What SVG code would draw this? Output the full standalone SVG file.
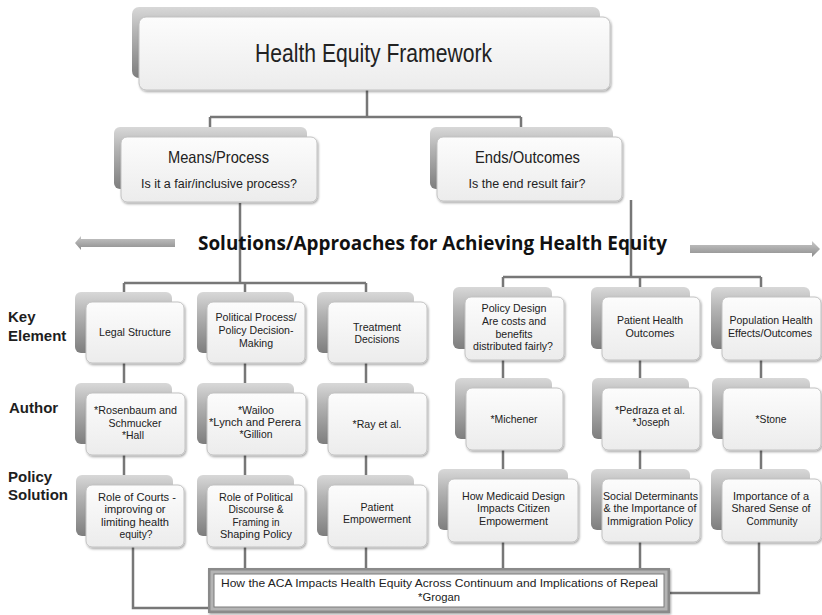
<svg xmlns="http://www.w3.org/2000/svg" width="822" height="615" viewBox="0 0 822 615">
<defs>
<linearGradient id="gb" x1="0" y1="0" x2="0" y2="1">
<stop offset="0" stop-color="#d8d8d8"/>
<stop offset="0.35" stop-color="#b4b4b4"/>
<stop offset="1" stop-color="#7e7e7e"/>
</linearGradient>
<linearGradient id="gf" x1="0" y1="0" x2="0" y2="1">
<stop offset="0" stop-color="#fcfcfc"/>
<stop offset="1" stop-color="#ececec"/>
</linearGradient>
<linearGradient id="ga" x1="0" y1="0" x2="0" y2="1">
<stop offset="0" stop-color="#c8c8c8"/>
<stop offset="1" stop-color="#8c8c8c"/>
</linearGradient>
<filter id="sh" x="-10%" y="-10%" width="125%" height="130%">
<feDropShadow dx="1" dy="1.5" stdDeviation="1.2" flood-color="#000" flood-opacity="0.35"/>
</filter>
</defs>
<style>
.back{fill:url(#gb);}
.front{fill:url(#gf);stroke:#c2c2c2;stroke-width:1;filter:url(#sh);}
.conn{stroke:#777;stroke-width:2.5;fill:none;}
.t{font-family:"Liberation Sans",Arial,sans-serif;font-size:11.5px;fill:#222;text-anchor:middle;}
.lbl{font-family:"Liberation Sans",Arial,sans-serif;font-size:15px;font-weight:bold;fill:#1e1e1e;}
.arrow{fill:url(#ga);}
</style>
<rect width="822" height="615" fill="#ffffff"/>

<g id="connectors">
<path class="conn" d="M367,90V117M210,117H521M210,117V127M521,117V127"/>
<path class="conn" d="M240,203V283M124,283H366M124,283V292M245,283V292M366,283V292"/>
<path class="conn" d="M631,200V277M503,277H761M503,277V287M640,277V287M761,277V287"/>
<path class="conn" d="M124,363V383M245,363V383M366,363V383"/>
<path class="conn" d="M503,360V378M640,360V378M761,360V378"/>
<path class="conn" d="M124,455V475M245,455V475M366,455V475"/>
<path class="conn" d="M503,450V469M640,450V469M761,450V469"/>
<path class="conn" d="M133,547V608H208M245,547V568M366,547V568M503,542V568M640,542V568M759,542V593H670"/>
</g>

<g id="arrows">
<polygon class="arrow" points="75,243 81,236 81,239 175,239 175,247 81,247 81,250"/>
<polygon class="arrow" points="820,249 812,241 812,245 690,245 690,253 812,253 812,257"/>
</g>

<text id="solutions" x="198" y="250" textLength="469" lengthAdjust="spacingAndGlyphs" style="font-family:'Open Sans','Liberation Sans',sans-serif;font-weight:bold;font-size:20px;fill:#111;">Solutions/Approaches for Achieving Health Equity</text>

<g id="row-labels">
<text class="lbl" x="8" y="322">Key</text>
<text class="lbl" x="8" y="341">Element</text>
<text class="lbl" x="9" y="413">Author</text>
<text class="lbl" x="8" y="482">Policy</text>
<text class="lbl" x="8" y="500">Solution</text>
</g>

<g id="n-title">
<rect class="back" x="132" y="7" width="468" height="71" rx="7"/>
<rect class="front" x="139" y="17" width="471" height="73" rx="7"/>
<text class="t" x="373.5" y="62" textLength="237" lengthAdjust="spacingAndGlyphs" style="font-size:25px">Health Equity Framework</text>
</g>

<g id="n-means">
<rect class="back" x="114" y="127" width="193" height="62" rx="6"/>
<rect class="front" x="121" y="137" width="196" height="65" rx="6"/>
<text class="t" x="218.5" y="163" textLength="101" lengthAdjust="spacingAndGlyphs" style="font-size:16.5px">Means/Process</text>
<text class="t" x="219" y="188" textLength="156" lengthAdjust="spacingAndGlyphs" style="font-size:12.5px">Is it a fair/inclusive process?</text>
</g>

<g id="n-ends">
<rect class="back" x="430" y="127" width="183" height="62" rx="6"/>
<rect class="front" x="437" y="137" width="185" height="64" rx="6"/>
<text class="t" x="527.5" y="163" textLength="105" lengthAdjust="spacingAndGlyphs" style="font-size:16.5px">Ends/Outcomes</text>
<text class="t" x="527" y="188" textLength="117" lengthAdjust="spacingAndGlyphs" style="font-size:12.5px">Is the end result fair?</text>
</g>

<g id="n-legal">
<rect class="back" x="75" y="292" width="97" height="61" rx="6"/>
<rect class="front" x="86" y="302" width="98" height="61" rx="6"/>
<text class="t" x="135" y="336" textLength="72" lengthAdjust="spacingAndGlyphs">Legal Structure</text>
</g>

<g id="n-political">
<rect class="back" x="197" y="292" width="97" height="61" rx="6"/>
<rect class="front" x="207" y="302" width="98" height="61" rx="6"/>
<text class="t" x="256" y="321" textLength="81" lengthAdjust="spacingAndGlyphs">Political Process/</text>
<text class="t" x="256" y="334" textLength="75" lengthAdjust="spacingAndGlyphs">Policy Decision-</text>
<text class="t" x="256" y="347" textLength="34" lengthAdjust="spacingAndGlyphs">Making</text>
</g>

<g id="n-treatment">
<rect class="back" x="317" y="292" width="97" height="61" rx="6"/>
<rect class="front" x="328" y="302" width="99" height="61" rx="6"/>
<text class="t" x="377" y="331" textLength="48" lengthAdjust="spacingAndGlyphs">Treatment</text>
<text class="t" x="377" y="343" textLength="45" lengthAdjust="spacingAndGlyphs">Decisions</text>
</g>

<g id="n-policydesign">
<rect class="back" x="453" y="287" width="99" height="62" rx="6"/>
<rect class="front" x="465" y="297" width="99" height="63" rx="6"/>
<text class="t" x="514" y="312" textLength="65" lengthAdjust="spacingAndGlyphs">Policy Design</text>
<text class="t" x="514" y="325" textLength="64" lengthAdjust="spacingAndGlyphs">Are costs and</text>
<text class="t" x="514" y="338" textLength="37" lengthAdjust="spacingAndGlyphs">benefits</text>
<text class="t" x="513" y="350" textLength="80" lengthAdjust="spacingAndGlyphs">distributed fairly?</text>
</g>

<g id="n-patienthealth">
<rect class="back" x="591" y="287" width="99" height="62" rx="6"/>
<rect class="front" x="602" y="297" width="98" height="63" rx="6"/>
<text class="t" x="650" y="324" textLength="66" lengthAdjust="spacingAndGlyphs">Patient Health</text>
<text class="t" x="650" y="337" textLength="49" lengthAdjust="spacingAndGlyphs">Outcomes</text>
</g>

<g id="n-population">
<rect class="back" x="711" y="287" width="99" height="62" rx="6"/>
<rect class="front" x="722" y="297" width="99" height="63" rx="6"/>
<text class="t" x="771" y="324" textLength="83" lengthAdjust="spacingAndGlyphs">Population Health</text>
<text class="t" x="770" y="337" textLength="84" lengthAdjust="spacingAndGlyphs">Effects/Outcomes</text>
</g>

<g id="n-rosenbaum">
<rect class="back" x="75" y="383" width="97" height="61" rx="6"/>
<rect class="front" x="86" y="393" width="99" height="62" rx="6"/>
<text class="t" x="135.5" y="414" textLength="83" lengthAdjust="spacingAndGlyphs">*Rosenbaum and</text>
<text class="t" x="135" y="427" textLength="53" lengthAdjust="spacingAndGlyphs">Schmucker</text>
<text class="t" x="133" y="439" textLength="22" lengthAdjust="spacingAndGlyphs">*Hall</text>
</g>

<g id="n-wailoo">
<rect class="back" x="197" y="383" width="97" height="61" rx="6"/>
<rect class="front" x="207" y="393" width="99" height="62" rx="6"/>
<text class="t" x="256" y="414" textLength="36" lengthAdjust="spacingAndGlyphs">*Wailoo</text>
<text class="t" x="255" y="426" textLength="92" lengthAdjust="spacingAndGlyphs">*Lynch and Perera</text>
<text class="t" x="256" y="438" textLength="33" lengthAdjust="spacingAndGlyphs">*Gillion</text>
</g>

<g id="n-ray">
<rect class="back" x="317" y="383" width="97" height="61" rx="6"/>
<rect class="front" x="328" y="393" width="99" height="62" rx="6"/>
<text class="t" x="377" y="428" textLength="49" lengthAdjust="spacingAndGlyphs">*Ray et al.</text>
</g>

<g id="n-michener">
<rect class="back" x="455" y="378" width="97" height="61" rx="6"/>
<rect class="front" x="466" y="388" width="97" height="62" rx="6"/>
<text class="t" x="514" y="423" textLength="47" lengthAdjust="spacingAndGlyphs">*Michener</text>
</g>

<g id="n-pedraza">
<rect class="back" x="592" y="378" width="97" height="61" rx="6"/>
<rect class="front" x="602" y="388" width="98" height="62" rx="6"/>
<text class="t" x="650" y="414" textLength="70" lengthAdjust="spacingAndGlyphs">*Pedraza et al.</text>
<text class="t" x="651" y="426" textLength="37" lengthAdjust="spacingAndGlyphs">*Joseph</text>
</g>

<g id="n-stone">
<rect class="back" x="712" y="378" width="98" height="61" rx="6"/>
<rect class="front" x="723" y="388" width="98" height="62" rx="6"/>
<text class="t" x="771" y="423" textLength="31" lengthAdjust="spacingAndGlyphs">*Stone</text>
</g>

<g id="n-courts">
<rect class="back" x="76" y="475" width="97" height="61" rx="6"/>
<rect class="front" x="86" y="485" width="98" height="62" rx="6"/>
<text class="t" x="137" y="500.5" textLength="78" lengthAdjust="spacingAndGlyphs">Role of Courts -</text>
<text class="t" x="135" y="513" textLength="61" lengthAdjust="spacingAndGlyphs">improving or</text>
<text class="t" x="135" y="525.5" textLength="68" lengthAdjust="spacingAndGlyphs">limiting health</text>
<text class="t" x="136" y="538" textLength="33" lengthAdjust="spacingAndGlyphs">equity?</text>
</g>

<g id="n-discourse">
<rect class="back" x="197" y="475" width="97" height="61" rx="6"/>
<rect class="front" x="207" y="485" width="98" height="62" rx="6"/>
<text class="t" x="256" y="500.5" textLength="74" lengthAdjust="spacingAndGlyphs">Role of Political</text>
<text class="t" x="256" y="513" textLength="55" lengthAdjust="spacingAndGlyphs">Discourse &amp;</text>
<text class="t" x="256" y="525.5" textLength="47" lengthAdjust="spacingAndGlyphs">Framing in</text>
<text class="t" x="256" y="538" textLength="72" lengthAdjust="spacingAndGlyphs">Shaping Policy</text>
</g>

<g id="n-empower">
<rect class="back" x="317" y="475" width="97" height="61" rx="6"/>
<rect class="front" x="328" y="485" width="99" height="62" rx="6"/>
<text class="t" x="377" y="510.5" textLength="33" lengthAdjust="spacingAndGlyphs">Patient</text>
<text class="t" x="377" y="523" textLength="68" lengthAdjust="spacingAndGlyphs">Empowerment</text>
</g>

<g id="n-medicaid">
<rect class="back" x="438" y="469" width="130" height="61" rx="6"/>
<rect class="front" x="448" y="479" width="130" height="63" rx="6"/>
<text class="t" x="513.5" y="499.5" textLength="103" lengthAdjust="spacingAndGlyphs">How Medicaid Design</text>
<text class="t" x="513.5" y="512" textLength="73" lengthAdjust="spacingAndGlyphs">Impacts Citizen</text>
<text class="t" x="513.5" y="524.5" textLength="69" lengthAdjust="spacingAndGlyphs">Empowerment</text>
</g>

<g id="n-social">
<rect class="back" x="591" y="469" width="99" height="61" rx="6"/>
<rect class="front" x="602" y="479" width="98" height="63" rx="6"/>
<text class="t" x="650.5" y="499.5" textLength="95" lengthAdjust="spacingAndGlyphs">Social Determinants</text>
<text class="t" x="650" y="512" textLength="93" lengthAdjust="spacingAndGlyphs">&amp; the Importance of</text>
<text class="t" x="650" y="524.5" textLength="86" lengthAdjust="spacingAndGlyphs">Immigration Policy</text>
</g>

<g id="n-community">
<rect class="back" x="711" y="469" width="99" height="61" rx="6"/>
<rect class="front" x="722" y="479" width="99" height="63" rx="6"/>
<text class="t" x="771" y="499.5" textLength="76" lengthAdjust="spacingAndGlyphs">Importance of a</text>
<text class="t" x="771" y="512" textLength="79" lengthAdjust="spacingAndGlyphs">Shared Sense of</text>
<text class="t" x="772" y="524.5" textLength="51" lengthAdjust="spacingAndGlyphs">Community</text>
</g>

<g id="n-aca">
<rect x="208" y="568" width="462" height="45" fill="#8a8a8a" filter="url(#sh)"/>
<rect x="210.5" y="570.5" width="457" height="40" fill="#b4b4b4"/>
<rect x="214" y="574" width="450" height="33" fill="#ffffff" stroke="#7a7a7a" stroke-width="1"/>
<text x="221" y="587" textLength="437" lengthAdjust="spacingAndGlyphs" style="font-family:'Liberation Sans',Arial,sans-serif;font-size:11.5px;fill:#222;">How the ACA Impacts Health Equity Across Continuum and Implications of Repeal</text>
<text x="418" y="601" textLength="42" lengthAdjust="spacingAndGlyphs" style="font-family:'Liberation Sans',Arial,sans-serif;font-size:11.5px;fill:#222;">*Grogan</text>
</g>
</svg>
